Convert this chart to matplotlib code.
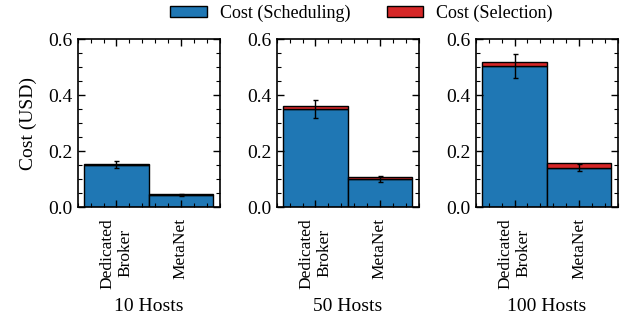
import numpy as np
import matplotlib
matplotlib.use("Agg")
import matplotlib.pyplot as plt
from matplotlib.ticker import AutoMinorLocator, MultipleLocator

plt.rcParams['font.family'] = ['Liberation Serif', 'DejaVu Serif']
plt.rcParams['font.size'] = 14

# data
hosts = ['10 Hosts', '50 Hosts', '100 Hosts']
methods = ['Dedicated\nBroker', 'MetaNet']
cost_sched = [[0.152, 0.045], [0.351, 0.100], [0.503, 0.141]]
cost_select = [[0.003, 0.003], [0.011, 0.009], [0.016, 0.016]]
cost_err = [[0.012, 0.003], [0.031, 0.011], [0.043, 0.012]]

c_sched = '#1f77b4'
c_select = '#d62728'

fig = plt.figure(figsize=(6.22, 3.2), dpi=100)
lefts = [0.125, 0.445, 0.765]
axes = [fig.add_axes([l, 0.352, 0.228, 0.526]) for l in lefts]

x = np.arange(len(methods))
for i, ax in enumerate(axes):
    s = cost_sched[i]
    sel = cost_select[i]
    ax.bar(x, s, width=1.0, color=c_sched, edgecolor='black', linewidth=1.0,
           label='Cost (Scheduling)')
    ax.bar(x, sel, width=1.0, bottom=s, color=c_select, edgecolor='black',
           linewidth=1.0, label='Cost (Selection)')
    ax.errorbar(x, s, yerr=cost_err[i], fmt='none', ecolor='black', elinewidth=1.0,
                capsize=1.8, capthick=1.0)
    ax.set_ylim(0, 0.6)
    ax.yaxis.set_major_locator(MultipleLocator(0.2))
    ax.yaxis.set_minor_locator(AutoMinorLocator())
    ax.xaxis.set_minor_locator(AutoMinorLocator())
    ax.set_xticks(x)
    ax.set_xticklabels(methods, rotation=90, linespacing=1.1, fontsize=12.5)
    ax.set_xlabel(hosts[i], labelpad=7)
    ax.tick_params(which='both', direction='in', top=True, right=True)
    ax.tick_params(which='major', length=5, width=1.0)
    ax.tick_params(which='minor', length=3, width=0.8)
    ax.tick_params(axis='x', which='major', pad=7.5)
    for sp in ax.spines.values():
        sp.set_linewidth(1.2)

axes[0].set_ylabel('Cost (USD)', labelpad=8)
h, l = axes[0].get_legend_handles_labels()
fig.legend(h, l, loc='upper center', ncol=2, frameon=False, bbox_to_anchor=(0.5815, 1.035),
           fontsize=13, handlelength=2.0, handleheight=0.55, handletextpad=0.75,
           columnspacing=2.0)

fig.savefig('out.png', dpi=100)
